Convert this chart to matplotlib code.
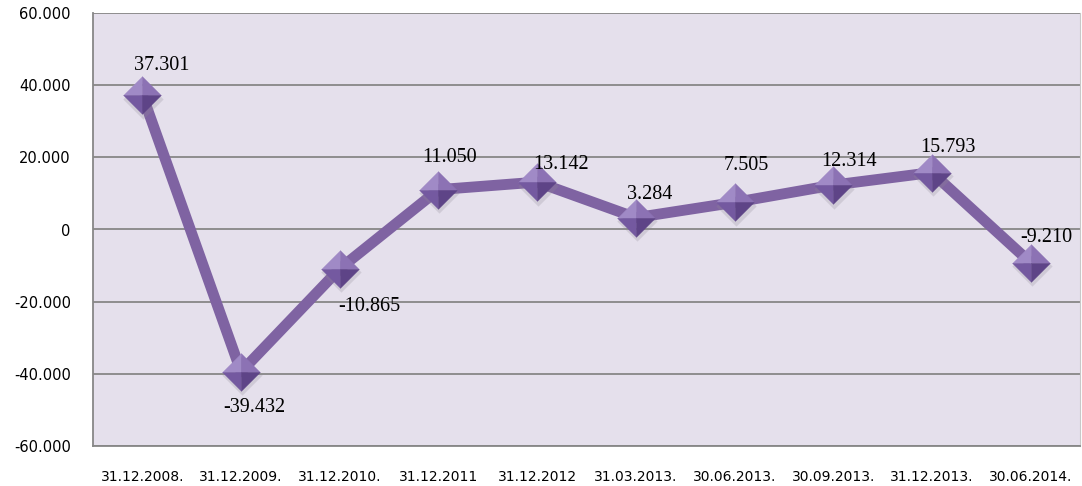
import matplotlib.pyplot as plt
from matplotlib.path import Path
from matplotlib.ticker import FuncFormatter, MultipleLocator

# data
dates = ["31.12.2008.", "31.12.2009.", "31.12.2010.", "31.12.2011", "31.12.2012",
         "31.03.2013.", "30.06.2013.", "30.09.2013.", "31.12.2013.", "30.06.2014."]
values = [37301, -39432, -10865, 11050, 13142, 3284, 7505, 12314, 15793, -9210]
value_labels = ["37.301", "-39.432", "-10.865", "11.050", "13.142",
                "3.284", "7.505", "12.314", "15.793", "-9.210"]

# label offsets in pixels (dx, dy)
label_offsets = [(19, 29), (13, -36), (30, -38), (11, 32), (24, 18),
                 (14, 23), (12, 37), (16, 24), (16, 25), (16, 25)]

line_color = "#7F63A2"
grid_color = "#878787"

fig = plt.figure(figsize=(10.82, 4.86), dpi=100)
ax = fig.add_axes([93 / 1082, 40 / 486, (1080 - 93) / 1082, (446 - 13) / 486])
ax.set_facecolor("#E5E0EC")

x = list(range(len(values)))
ax.plot(x, values, color=line_color, lw=7.8, solid_capstyle="butt", zorder=3)

# shaded diamond markers built from four facets
facets = [
    ([(-1, 0), (0, 1), (0, 0), (-1, 0)], "#A08AC6"),  # top left
    ([(0, 1), (1, 0), (0, 0), (0, 1)], "#8C72B4"),    # top right
    ([(-1, 0), (0, 0), (0, -1), (-1, 0)], "#7459A0"),  # bottom left
    ([(0, 0), (1, 0), (0, -1), (0, 0)], "#5E4487"),   # bottom right
]
# soft shadow
shadow = Path([(-1, 0), (0, 1), (1, 0), (0, -1), (-1, 0)])
ax.plot([i + 0.01 for i in x], [v - 1000 for v in values], ls="none", marker=shadow,
        ms=29, mfc="#8F8A96", mec="none", alpha=0.25, zorder=4)
for verts, col in facets:
    ax.plot(x, values, ls="none", marker=Path(verts), ms=27,
            mfc=col, mec=col, mew=0.3, zorder=5)

for i, (v, lab) in enumerate(zip(values, value_labels)):
    dx, dy = label_offsets[i]
    ax.annotate(lab, (i, v), xytext=(dx * 0.72, dy * 0.72), textcoords="offset points",
                ha="center", va="center", fontsize=14.5, family="Liberation Serif",
                color="black", zorder=6)

ax.set_xlim(-0.5, len(values) - 0.5)
ax.set_ylim(-60000, 60000)
ax.yaxis.set_major_locator(MultipleLocator(20000))
ax.yaxis.set_major_formatter(FuncFormatter(lambda v, p: f"{int(v):,}".replace(",", ".")))
ax.set_xticks(x)
ax.set_xticklabels(dates, fontsize=10, family="DejaVu Sans")
ax.tick_params(axis="y", labelsize=10.5, length=0, pad=16)
ax.tick_params(axis="x", length=0, pad=17)

ax.grid(axis="y", color=grid_color, lw=1.3, zorder=1)
ax.set_axisbelow(True)
ax.spines["top"].set_visible(False)
for s in ["left", "bottom"]:
    ax.spines[s].set_color(grid_color)
    ax.spines[s].set_linewidth(1.3)
ax.spines["right"].set_color("#C8C8C8")
ax.spines["right"].set_linewidth(0.8)

fig.savefig("out.png", dpi=100)
